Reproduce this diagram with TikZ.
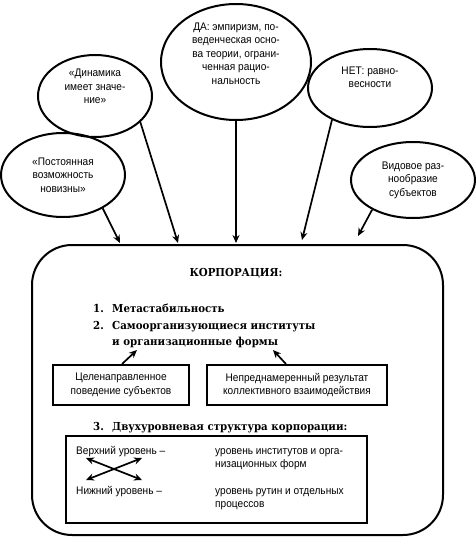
\documentclass[tikz,border=0pt]{standalone}
\usepackage{fontspec}
\setmainfont{Liberation Sans}[FakeStretch=0.92]
\newfontfamily\boldserif{DejaVu Serif}[FakeStretch=0.93]
\usetikzlibrary{shapes.geometric,arrows.meta}

\begin{document}
\begin{tikzpicture}[x=1pt, y=-1pt,
  node font=\fontsize{11}{13.5}\selectfont,
  bubble/.style={ellipse, draw, line width=2pt, align=center, inner sep=0pt},
  frame/.style={draw, line width=2pt, inner sep=0pt, align=center},
  heading/.style={inner sep=0pt, node font=\boldserif\bfseries\fontsize{11}{16}\selectfont},
  plain/.style={inner sep=0pt, align=left},
  link/.style={line width=1.7pt, -{Stealth[length=8pt,width=7pt]}},
  crossarrow/.style={line width=1.7pt, {Stealth[length=8pt,width=7pt]}-{Stealth[length=8pt,width=7pt]}}]
  \useasboundingbox (0,0) rectangle (475,544);

  \node [bubble, minimum width=150pt, minimum height=116pt] (da) at (236,62)
    {ДА: эмпиризм, по-\\веденческая осно-\\ва теории, ограни-\\ченная рацио-\\нальность\\[4pt]};
  \node [bubble, minimum width=114pt, minimum height=82pt] (dyn) at (95,96)
    {«Динамика\\имеет значе-\\ние»\\[6pt]};
  \node [bubble, minimum width=124pt, minimum height=84pt] (post) at (63,175)
    {«Постоянная\\возможность\\новизны»};
  \node [bubble, minimum width=124pt, minimum height=78pt] (net) at (370,88)
    {НЕТ: равно-\\весности\\[8pt]};
  \node [bubble, minimum width=124pt, minimum height=76pt] (vid) at (413,180)
    {Видовое раз-\\нообразие\\субъектов};

  \node [frame, rounded corners=40pt, minimum width=411pt, minimum height=290pt]
    (corp) at (237.5,390) {};

  \coordinate (in1) at (120,243);
  \coordinate (in2) at (178,243);
  \coordinate (in3) at (236,243);
  \coordinate (in4) at (302,240);
  \coordinate (in5) at (358,236);
  \draw [link] (post.-40) -- (in1);
  \draw [link] (dyn.-30) -- (in2);
  \draw [link] (da.south) -- (in3);
  \draw [link] (net.-140) -- (in4);
  \draw [link] (vid.-144) -- (in5);

  \node [heading] (title) at (236,273) {КОРПОРАЦИЯ:};
  \node [heading, anchor=base west] (item1) at (93,312)
    {\makebox[19pt][l]{1.}Метастабильность};
  \node [heading, anchor=base west] (item2) at (93,329)
    {\makebox[19pt][l]{2.}Самоорганизующиеся институты};
  \node [heading, anchor=base west] (item2b) at (112,345) {и организационные формы};

  \node [frame, minimum width=136pt, minimum height=40pt] (goal) at (121,385)
    {Целенаправленное\\поведение субъектов};
  \node [frame, minimum width=180pt, minimum height=40pt] (result) at (297,385)
    {Непреднамеренный результат\\коллективного взаимодействия};
  \coordinate (tipL) at (137,350);
  \coordinate (tipR) at (273,350);
  \draw [link] ([xshift=1pt]goal.north) -- (tipL);
  \draw [link] ([xshift=-11pt]result.north) -- (tipR);

  \node [heading, anchor=base west] (item3) at (93,430)
    {\makebox[19pt][l]{3.}Двухуровневая структура корпорации:};

  \node [frame, minimum width=301pt, minimum height=87pt] (levels) at (216.5,479.5) {};
  \node [plain, anchor=base west] (upper) at (76,454) {Верхний уровень –};
  \node [plain, anchor=base west] (lower) at (76,494) {Нижний уровень –};
  \node [plain, anchor=base west] (upperdesc) at (215,467.5)
    {уровень институтов и орга-\\низационных форм};
  \node [plain, anchor=base west] (lowerdesc) at (215,507.5)
    {уровень рутин и отдельных\\процессов};
  \coordinate (a1) at (86,458);
  \coordinate (a2) at (142,480);
  \coordinate (a3) at (86,480);
  \coordinate (a4) at (142,458);
  \draw [crossarrow] (a1) -- (a2);
  \draw [crossarrow] (a3) -- (a4);
\end{tikzpicture}
\end{document}
